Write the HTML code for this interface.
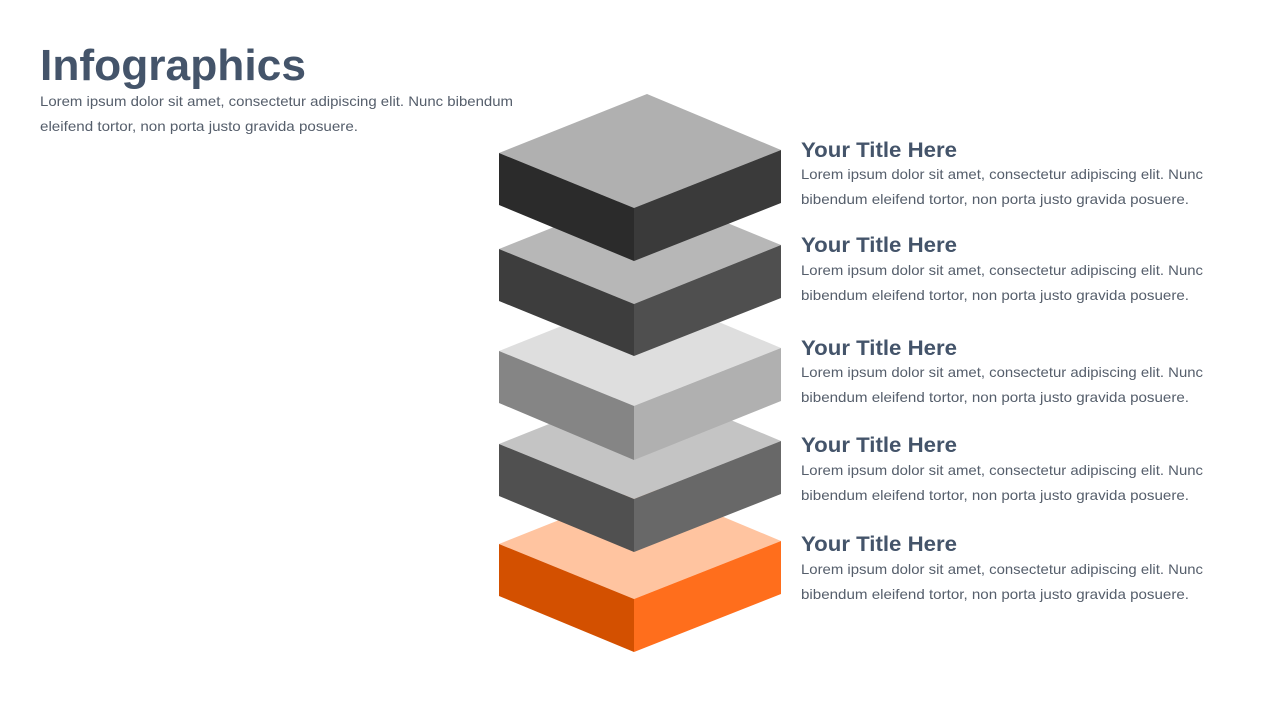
<!DOCTYPE html>
<html><head><meta charset="utf-8"><style>
html,body{margin:0;padding:0;background:#fff;}
svg{display:block}
text{font-family:"Liberation Sans",sans-serif;}
.t{font-weight:bold;fill:#44546a;font-size:21px}
.b{fill:#555e6b;font-size:14px}
</style></head><body>
<svg width="1280" height="720" viewBox="0 0 1280 720" xmlns="http://www.w3.org/2000/svg">
<text x="40" y="80" font-size="44" font-weight="bold" fill="#44546a" textLength="266" lengthAdjust="spacingAndGlyphs">Infographics</text>
<text class="b" x="40" y="106" textLength="473" lengthAdjust="spacingAndGlyphs">Lorem ipsum dolor sit amet, consectetur adipiscing elit. Nunc bibendum</text>
<text class="b" x="40" y="131" textLength="318" lengthAdjust="spacingAndGlyphs">eleifend tortor, non porta justo gravida posuere.</text>

<!-- layer 5 (F=599) -->
<g>
<polygon points="647,485 781,541 634,599 499,544" fill="#ffc4a0"/>
<polygon points="499,544 634,599 634,652 499,596" fill="#d35000"/>
<polygon points="634,599 781,541 781,594 634,652" fill="#ff6e1c"/>
</g>
<!-- layer 4 (F=499) -->
<g>
<polygon points="647,385 781,441 634,499 499,444" fill="#c4c4c4"/>
<polygon points="499,444 634,499 634,552 499,496" fill="#505050"/>
<polygon points="634,499 781,441 781,494 634,552" fill="#686868"/>
</g>
<!-- layer 3 (F=406) -->
<g>
<polygon points="647,292 781,348 634,406 499,351" fill="#dedede"/>
<polygon points="499,351 634,406 634,460 499,403" fill="#858585"/>
<polygon points="634,406 781,348 781,401 634,460" fill="#b0b0b0"/>
</g>
<!-- layer 2 (F=304) -->
<g>
<polygon points="647,190 781,245 634,304 499,249" fill="#b7b7b7"/>
<polygon points="499,249 634,304 634,356 499,301" fill="#3d3d3d"/>
<polygon points="634,304 781,245 781,298 634,356" fill="#4f4f4f"/>
</g>
<!-- layer 1 (F=208) -->
<g>
<polygon points="647,94 781,150 634,208 499,153" fill="#b0b0b0"/>
<polygon points="499,153 634,208 634,261 499,205" fill="#2b2b2b"/>
<polygon points="634,208 781,150 781,203 634,261" fill="#3a3a3a"/>
</g>

<g>
<text class="t" x="801" y="157" textLength="156" lengthAdjust="spacingAndGlyphs">Your Title Here</text>
<text class="b" x="801" y="179" textLength="402" lengthAdjust="spacingAndGlyphs">Lorem ipsum dolor sit amet, consectetur adipiscing elit. Nunc</text>
<text class="b" x="801" y="204" textLength="388" lengthAdjust="spacingAndGlyphs">bibendum eleifend tortor, non porta justo gravida posuere.</text>

<text class="t" x="801" y="252" textLength="156" lengthAdjust="spacingAndGlyphs">Your Title Here</text>
<text class="b" x="801" y="275" textLength="402" lengthAdjust="spacingAndGlyphs">Lorem ipsum dolor sit amet, consectetur adipiscing elit. Nunc</text>
<text class="b" x="801" y="300" textLength="388" lengthAdjust="spacingAndGlyphs">bibendum eleifend tortor, non porta justo gravida posuere.</text>

<text class="t" x="801" y="355" textLength="156" lengthAdjust="spacingAndGlyphs">Your Title Here</text>
<text class="b" x="801" y="377" textLength="402" lengthAdjust="spacingAndGlyphs">Lorem ipsum dolor sit amet, consectetur adipiscing elit. Nunc</text>
<text class="b" x="801" y="402" textLength="388" lengthAdjust="spacingAndGlyphs">bibendum eleifend tortor, non porta justo gravida posuere.</text>

<text class="t" x="801" y="452" textLength="156" lengthAdjust="spacingAndGlyphs">Your Title Here</text>
<text class="b" x="801" y="475" textLength="402" lengthAdjust="spacingAndGlyphs">Lorem ipsum dolor sit amet, consectetur adipiscing elit. Nunc</text>
<text class="b" x="801" y="500" textLength="388" lengthAdjust="spacingAndGlyphs">bibendum eleifend tortor, non porta justo gravida posuere.</text>

<text class="t" x="801" y="551" textLength="156" lengthAdjust="spacingAndGlyphs">Your Title Here</text>
<text class="b" x="801" y="574" textLength="402" lengthAdjust="spacingAndGlyphs">Lorem ipsum dolor sit amet, consectetur adipiscing elit. Nunc</text>
<text class="b" x="801" y="599" textLength="388" lengthAdjust="spacingAndGlyphs">bibendum eleifend tortor, non porta justo gravida posuere.</text>
</g>
</svg>
</body></html>
